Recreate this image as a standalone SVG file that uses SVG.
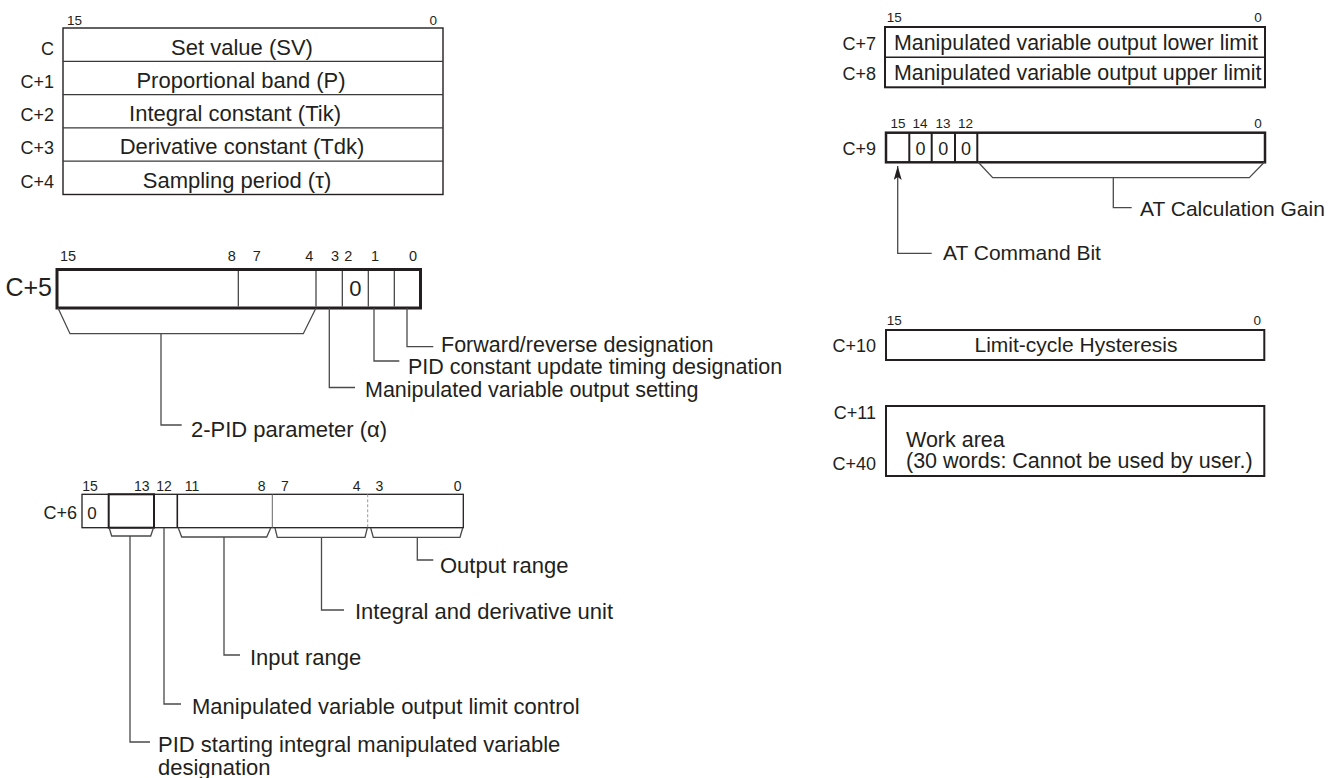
<svg xmlns="http://www.w3.org/2000/svg" width="1344" height="778" viewBox="0 0 1344 778">
<defs>
<style>
text{font-family:"Liberation Sans",Arial,sans-serif;fill:#231f20}
.t{font-size:22px}
.r{font-size:21px}
.s{font-size:21.5px}
.lbl{font-size:18px;text-anchor:end}
.bit{font-size:13.5px}
.mid{text-anchor:middle}
.end{text-anchor:end}
.box{fill:#fff;stroke:#231f20}
.cell{stroke:#3a3a3a;stroke-width:1.2;fill:none}
.con{stroke:#4a4a4a;stroke-width:1.3;fill:none}
</style>
<marker id="ah" markerWidth="14" markerHeight="8" refX="14" refY="4" orient="auto" markerUnits="userSpaceOnUse" viewBox="0 0 14 8">
<path d="M0,0 L14,4 L0,8 L3,4 Z" fill="#231f20"/>
</marker>
</defs>
<rect width="1344" height="778" fill="#fff"/>

<g id="reg-c0-c4">
<text class="bit" x="67" y="25">15</text>
<text class="bit end" x="437" y="25">0</text>
<rect class="box" x="63" y="28" width="380" height="166.5" stroke-width="1.4"/>
<path class="cell" d="M63,61.3H443M63,94.6H443M63,127.9H443M63,161.2H443"/>
<text class="lbl" x="54" y="54.5">C</text>
<text class="lbl" x="54" y="87.8">C+1</text>
<text class="lbl" x="54" y="121.1">C+2</text>
<text class="lbl" x="54" y="154.4">C+3</text>
<text class="lbl" x="54" y="187.7">C+4</text>
<text class="t mid" x="242" y="54.5">Set value (SV)</text>
<text class="t mid" x="241" y="87.8">Proportional band (P)</text>
<text class="t mid" x="235" y="121.1">Integral constant (Tik)</text>
<text class="t mid" x="242" y="154.4">Derivative constant (Tdk)</text>
<text class="t mid" x="237" y="187.7">Sampling period (τ)</text>
</g>

<g id="reg-c5">
<g style="font-size:14.5px">
<text x="60" y="260.7">15</text>
<text class="mid" x="231.7" y="260.7">8</text>
<text class="mid" x="256.7" y="260.7">7</text>
<text class="mid" x="309.3" y="260.7">4</text>
<text class="mid" x="335" y="260.7">3</text>
<text class="mid" x="348.3" y="260.7">2</text>
<text class="mid" x="375" y="260.7">1</text>
<text class="mid" x="413" y="260.7">0</text>
</g>
<text class="end" style="font-size:25px" x="52" y="296">C+5</text>
<rect class="box" x="57" y="269.5" width="363.5" height="38.5" stroke-width="3"/>
<path class="cell" d="M238.3,271V306.5M316,271V306.5M342.3,271V306.5M368.3,271V306.5M394.3,271V306.5"/>
<text class="mid" style="font-size:22px" x="355.3" y="296">0</text>
</g>

<g id="reg-c6">
<g style="font-size:14px">
<text class="mid" x="90" y="490.7">15</text>
<text class="mid" x="141.7" y="490.7">13</text>
<text class="mid" x="164" y="490.7">12</text>
<text class="mid" x="192" y="490.7">11</text>
<text class="mid" x="261.7" y="490.7">8</text>
<text class="mid" x="285" y="490.7">7</text>
<text class="mid" x="356.7" y="490.7">4</text>
<text class="mid" x="379.3" y="490.7">3</text>
<text class="mid" x="457.7" y="490.7">0</text>
</g>
<text class="lbl" x="77" y="519">C+6</text>
<rect class="box" x="82" y="494.3" width="381.3" height="33.4" stroke-width="1.3" stroke="#333"/>
<rect x="108.7" y="494.3" width="45.3" height="33.4" fill="none" stroke="#231f20" stroke-width="2"/>
<path d="M177.3,494.3V527.7" stroke="#231f20" stroke-width="1.6"/>
<path d="M272.3,494.3V527.7" stroke="#666" stroke-width="1"/>
<path d="M367.7,494.3V527.7" stroke="#999" stroke-width="1" stroke-dasharray="3,2"/>
<text class="mid" style="font-size:17px" x="92" y="519">0</text>
</g>

<g id="reg-c7-c8">
<text class="bit" x="886.7" y="21.7">15</text>
<text class="bit end" x="1261.7" y="21.7">0</text>
<rect class="box" x="885" y="27" width="380" height="60.3" stroke-width="2"/>
<path d="M885,57.2H1265" stroke="#231f20" stroke-width="1.6"/>
<text class="lbl" x="876" y="50">C+7</text>
<text class="lbl" x="876" y="80">C+8</text>
<text style="font-size:21.4px" x="894" y="50">Manipulated variable output lower limit</text>
<text style="font-size:21.4px" x="894" y="80">Manipulated variable output upper limit</text>
</g>

<g id="reg-c9">
<text class="bit mid" x="898" y="128.3">15</text>
<text class="bit mid" x="920" y="128.3">14</text>
<text class="bit mid" x="943" y="128.3">13</text>
<text class="bit mid" x="965.5" y="128.3">12</text>
<text class="bit end" x="1261.7" y="128.3">0</text>
<text class="lbl" x="876" y="155">C+9</text>
<rect class="box" x="886" y="132.7" width="379" height="29.6" stroke-width="2.5"/>
<path d="M909.3,132.7V162.3M931.7,132.7V162.3M955,132.7V162.3M977.3,132.7V162.3" stroke="#231f20" stroke-width="2"/>
<text class="mid" style="font-size:18px" x="920.5" y="155">0</text>
<text class="mid" style="font-size:18px" x="943.3" y="155">0</text>
<text class="mid" style="font-size:18px" x="966" y="155">0</text>
</g>

<g id="reg-c10">
<text class="bit" x="886.7" y="325">15</text>
<text class="bit end" x="1261" y="325">0</text>
<text class="lbl" x="876" y="352">C+10</text>
<rect class="box" x="886" y="330" width="378.3" height="30" stroke-width="2"/>
<text class="r mid" x="1076" y="352.3">Limit-cycle Hysteresis</text>
</g>

<g id="reg-c11-c40">
<text class="lbl" x="876" y="419.3">C+11</text>
<text class="lbl" x="876" y="470">C+40</text>
<rect class="box" x="886" y="406" width="378.3" height="70" stroke-width="2"/>
<text class="s" x="906" y="446.5">Work area</text>
<text class="s" x="906" y="468">(30 words: Cannot be used by user.)</text>
</g>

<g id="connectors">
<path class="con" d="M58,308L70,333.7H303.3L316,308"/>
<path class="con" d="M161,333.7V425H181.7"/>
<path class="con" d="M329.3,308V387.5H355"/>
<path class="con" d="M374,308V361H399.3"/>
<path class="con" d="M407,308V346.7H433.3"/>
<path class="con" d="M109.3,528.3L111.7,536H150.7L153.3,528.3"/>
<path class="con" d="M178.3,528L181.7,537H266.7L270.7,528"/>
<path class="con" d="M275,528L277.3,537.3H365L367.3,528"/>
<path class="con" d="M370.7,528L373.3,537.3H460L462.7,528"/>
<path class="con" d="M417.3,537.3V560H433.3"/>
<path class="con" d="M321.5,537.3V610H344"/>
<path class="con" d="M224,537V655H240"/>
<path class="con" d="M164,527.7V704H181"/>
<path class="con" d="M130,536V742H150"/>
<path class="con" d="M978.3,162.3L992.7,177.7H1249.3L1264.3,162.3"/>
<path class="con" d="M1113.3,177.7V207.7H1131.7"/>
<path class="con" d="M931.7,253.3H897.7V166" marker-end="url(#ah)"/>
</g>

<g id="labels">
<text class="s" x="441" y="352">Forward/reverse designation</text>
<text class="s" x="408" y="373.5">PID constant update timing designation</text>
<text class="s" x="365" y="397">Manipulated variable output setting</text>
<text class="t" x="191" y="437">2-PID parameter (α)</text>
<text class="t" x="440" y="573">Output range</text>
<text class="t" x="355" y="619">Integral and derivative unit</text>
<text class="t" x="250" y="665">Input range</text>
<text class="t" x="192" y="714">Manipulated variable output limit control</text>
<text class="t" x="158" y="752">PID starting integral manipulated variable</text>
<text class="t" x="158" y="775">designation</text>
<text class="r" x="1140" y="216">AT Calculation Gain</text>
<text class="r" x="943" y="260">AT Command Bit</text>
</g>
</svg>
